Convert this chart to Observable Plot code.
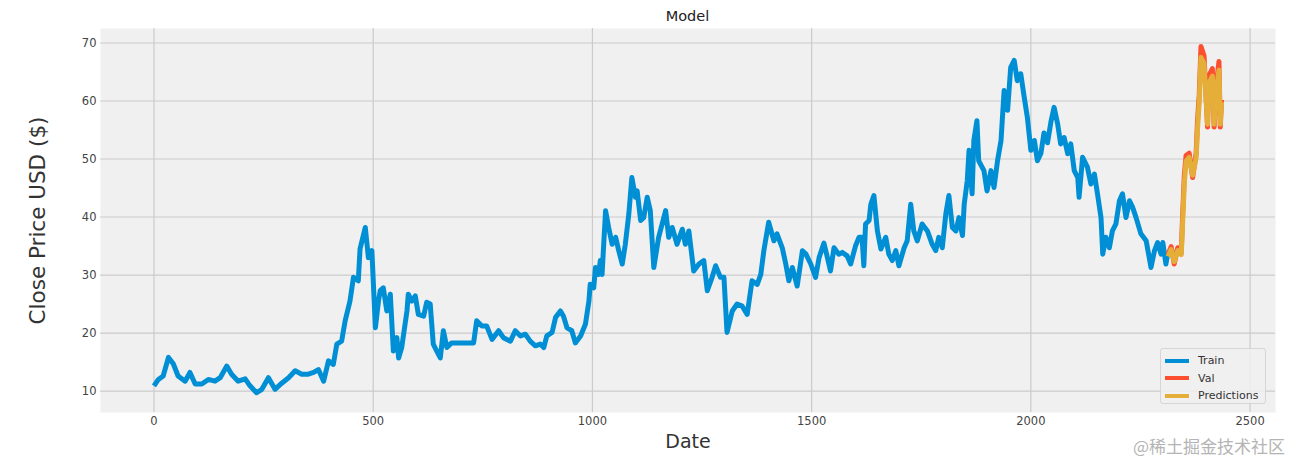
<!DOCTYPE html>
<html>
<head>
<meta charset="utf-8">
<script src="https://cdn.jsdelivr.net/npm/d3@7"></script>
<script src="https://cdn.jsdelivr.net/npm/@observablehq/plot@0.6"></script>
<style>
  html, body { margin: 0; padding: 0; background: #ffffff; }
  #wrap { position: relative; width: 1311px; height: 470px; font-family: "DejaVu Sans", sans-serif; }
  #title { position: absolute; left: 100px; width: 1175px; top: 8px; text-align: center; font-size: 14.5px; color: #222; }
  #legend { position: absolute; left: 1160px; top: 348px; width: 106px; height: 56px; box-sizing: border-box;
            background: rgba(240,240,240,0.85); border: 1px solid #d6d6d6; border-radius: 3px; padding: 3px 0 0 4px; }
  .row { display: flex; align-items: center; height: 17.5px; font-size: 11px; color: #333; }
  .sw { width: 24px; height: 4px; margin-right: 9px; }
  #wm { position: absolute; left: 1133px; top: 433px; font-family: "Noto Sans CJK SC", sans-serif; font-size: 17px; color: #b4b4b4; }
  g[aria-label="x-axis label"] { font-size: 19px; fill: #333; }
  g[aria-label="y-axis label"] { font-size: 21.5px; fill: #333; }
</style>
</head>
<body>
<div id="wrap">
  <div id="chart"></div>
  <div id="title"></div>
  <div id="legend"></div>
  <div id="wm">@稀土掘金技术社区</div>
</div>
<script>
// ---- data: [day index, close price] ----
const chartTitle = "Model";
const xLabel = "Date";
const yLabel = "Close Price USD ($)";
const xTicks = [0, 500, 1000, 1500, 2000, 2500];
const yTicks = [10, 20, 30, 40, 50, 60, 70];
const seriesNames = ["Train", "Val", "Predictions"];
const seriesColors = ["#008fd5", "#fc4f30", "#e5ae38"];

const train = [
  [0,10.9],[10,12.0],[21,12.6],[33,15.8],[44,14.7],[55,12.6],[71,11.7],[82,13.2],[94,11.2],[109,11.2],
  [124,12.0],[139,11.7],[151,12.3],[166,14.3],[177,12.9],[192,11.7],[208,12.1],[219,10.9],[234,9.7],[246,10.3],
  [261,12.3],[276,10.3],[292,11.4],[307,12.3],[322,13.5],[337,12.9],[352,12.9],[364,13.2],[375,13.7],[387,11.7],
  [398,15.2],[409,14.6],[417,18.1],[428,18.6],[436,22.1],[447,25.5],[455,29.6],[466,29.0],[470,34.5],[482,38.2],
  [489,33.0],[497,34.2],[505,20.9],[512,25.5],[516,27.3],[523,27.8],[531,23.8],[539,26.7],[546,16.9],[554,19.2],
  [558,15.7],[565,17.5],[577,23.8],[580,26.7],[588,25.5],[596,26.4],[603,23.2],[615,22.9],[622,25.3],[630,25.0],
  [637,18.1],[645,16.9],[653,15.7],[660,20.4],[668,17.5],[679,18.3],[699,18.3],[721,18.3],[729,18.3],[736,22.1],
  [748,21.2],[759,21.2],[771,18.9],[786,20.4],[797,19.2],[813,18.6],[824,20.4],[836,19.5],[847,19.8],[858,18.6],
  [870,17.8],[881,18.1],[889,17.5],[896,19.5],[908,20.1],[916,22.7],[927,23.8],[934,22.9],[942,20.9],[953,20.4],
  [961,18.3],[973,19.5],[984,21.5],[992,25.5],[995,28.4],[1003,27.8],[1007,31.3],[1014,30.1],[1018,32.5],[1022,30.1],
  [1030,41.1],[1037,38.2],[1045,35.3],[1053,36.5],[1060,34.2],[1068,31.9],[1075,35.3],[1083,40.5],[1090,46.8],[1098,43.4],
  [1102,44.5],[1110,39.4],[1117,39.9],[1125,43.4],[1132,41.1],[1140,31.3],[1151,36.5],[1167,41.1],[1174,36.5],[1182,38.2],
  [1193,35.3],[1205,37.9],[1212,35.3],[1220,37.6],[1231,30.7],[1243,31.9],[1254,32.5],[1262,27.3],[1273,29.6],[1281,31.6],
  [1292,29.6],[1300,29.6],[1307,20.1],[1319,23.8],[1330,25.0],[1341,24.7],[1353,23.2],[1364,29.0],[1376,28.4],[1384,30.1],
  [1391,34.2],[1402,39.1],[1414,35.9],[1421,37.1],[1433,34.7],[1441,31.9],[1448,29.0],[1456,31.3],[1467,28.1],[1479,34.2],
  [1487,33.6],[1498,31.9],[1509,29.6],[1517,33.0],[1528,35.5],[1536,33.0],[1543,30.7],[1551,34.7],[1562,33.6],[1570,33.9],
  [1581,33.3],[1589,31.9],[1600,35.0],[1608,36.5],[1615,36.5],[1619,31.6],[1623,38.8],[1631,39.4],[1635,42.2],[1642,43.7],
  [1650,37.6],[1658,34.5],[1669,36.5],[1676,33.6],[1684,32.5],[1692,34.2],[1699,31.6],[1711,34.7],[1718,35.9],[1726,42.2],
  [1733,37.6],[1741,35.9],[1752,38.8],[1764,37.6],[1775,35.3],[1783,34.2],[1790,36.5],[1798,34.7],[1806,40.5],[1813,43.7],
  [1821,38.2],[1829,37.6],[1836,39.9],[1844,36.8],[1848,42.2],[1855,46.3],[1859,51.5],[1866,44.0],[1870,53.2],[1877,56.6],
  [1881,49.7],[1893,48.0],[1900,44.5],[1909,48.0],[1916,45.1],[1924,49.7],[1932,53.2],[1939,61.8],[1947,58.4],[1954,65.8],
  [1962,67.0],[1969,63.5],[1977,64.7],[1985,60.6],[1992,57.2],[2000,51.5],[2008,53.2],[2015,49.7],[2023,51.0],[2030,54.5],
  [2038,52.8],[2046,56.5],[2053,58.9],[2061,56.1],[2068,52.6],[2076,53.7],[2084,50.9],[2091,52.6],[2099,48.0],[2107,46.8],
  [2110,43.4],[2118,50.3],[2129,48.6],[2137,45.7],[2145,47.4],[2152,44.0],[2160,39.9],[2164,33.6],[2171,36.5],[2179,34.7],
  [2186,37.6],[2194,38.8],[2202,42.8],[2209,44.0],[2217,39.9],[2225,42.8],[2232,41.7],[2240,39.9],[2251,37.1],[2263,35.9],
  [2270,33.0],[2274,31.3],[2282,34.2],[2289,35.6],[2297,33.6],[2301,35.6],[2308,31.9],[2312,33.6]
];
const valid = [
  [2313,33.6],[2320,34.9],[2327,31.9],[2335,34.7],[2343,33.8],[2346,40.0],[2350,47.2],[2354,50.6],[2361,51.0],[2369,46.8],
  [2377,51.0],[2380,56.5],[2384,61.0],[2388,69.4],[2395,67.8],[2403,55.5],[2406,64.3],[2414,65.6],[2418,55.5],[2422,62.0],
  [2429,66.8],[2432,55.5],[2435,60.2]
];
const predictions = [
  [2313,33.2],[2320,34.4],[2327,32.3],[2335,34.2],[2343,33.5],[2346,38.5],[2350,45.8],[2354,49.6],[2361,50.3],[2369,47.2],
  [2377,50.2],[2380,55.0],[2384,59.8],[2388,67.5],[2395,66.5],[2403,56.0],[2406,63.0],[2414,64.3],[2418,56.0],[2422,61.2],
  [2429,65.3],[2432,56.0],[2435,59.8]
];
// ------------------------------------------------------------------------

const series = [train, valid, predictions];
const lineMarks = series.map((s, i) => Plot.line(s, {
  x: d => d[0], y: d => d[1], stroke: seriesColors[i],
  strokeWidth: 5, strokeLinejoin: "round", strokeLinecap: "butt"
}));

const chart = Plot.plot({
  width: 1311, height: 470,
  marginLeft: 100, marginRight: 36, marginTop: 28, marginBottom: 58,
  style: { fontFamily: "DejaVu Sans", fontSize: "11.5px", color: "#444", background: "transparent" },
  x: { domain: [-122, 2558] },
  y: { domain: [6.3, 72.5] },
  marks: [
    Plot.frame({ fill: "#f0f0f0", stroke: null }),
    Plot.gridX(xTicks, { stroke: "#cbcbcb", strokeOpacity: 1, strokeWidth: 1.2 }),
    Plot.gridY(yTicks, { stroke: "#cbcbcb", strokeOpacity: 1, strokeWidth: 1.2 }),
    Plot.axisX(xTicks, { tickSize: 0, tickPadding: 4, tickFormat: d3.format("d"), label: xLabel, labelAnchor: "center", labelArrow: "none", labelOffset: 35 }),
    Plot.axisY(yTicks, { tickSize: 0, tickPadding: 4, tickFormat: d3.format("d"), label: yLabel, labelAnchor: "center", labelArrow: "none", labelOffset: 71 }),
    ...lineMarks
  ]
});
document.getElementById("chart").appendChild(chart);
document.getElementById("title").textContent = chartTitle;

const legend = document.getElementById("legend");
seriesNames.forEach((name, i) => {
  const row = document.createElement("div");
  row.className = "row";
  const sw = document.createElement("div");
  sw.className = "sw";
  sw.style.background = seriesColors[i];
  const t = document.createElement("span");
  t.textContent = name;
  row.appendChild(sw); row.appendChild(t);
  legend.appendChild(row);
});
</script>
</body>
</html>
